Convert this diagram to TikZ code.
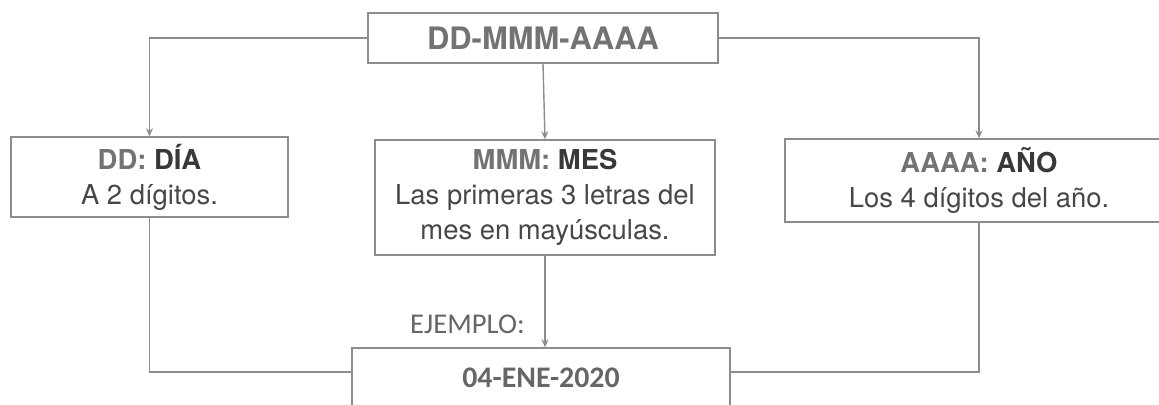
\documentclass[tikz,border=0pt]{standalone}
\usepackage{fontspec}
\setmainfont{TeX Gyre Heros}
\newfontfamily\calfont{Carlito}
\usetikzlibrary{arrows.meta,positioning}
\begin{document}
\begin{tikzpicture}[
  box/.style={draw=black!45, line width=0.8pt, align=center, inner sep=0pt,
    text=black!72, font=\fontsize{15.6}{19.9}\selectfont},
  link/.style={draw=black!45, line width=0.8pt},
  arr/.style={link, -{Stealth[length=1.6mm,width=1.4mm]}}]
\useasboundingbox (0,0) rectangle (23.18,-8.08);
\node[box, minimum width=7cm, minimum height=1cm, font=\fontsize{17.6}{20}\selectfont\bfseries, text=black!55] (fmt) at (10.86,-0.76) {DD-MMM-AAAA};
\node[box, minimum width=5.54cm, minimum height=1.6cm] (dd) at (2.99,-3.54)
  {\textcolor{black!55}{\bfseries DD:} \textcolor{black!78}{\bfseries DÍA}\\A 2 dígitos.};
\node[box, minimum width=6.8cm, minimum height=2.3cm] (mmm) at (10.90,-3.95)
  {\textcolor{black!55}{\bfseries MMM:} \textcolor{black!78}{\bfseries MES}\\Las primeras 3 letras del\\mes en mayúsculas.};
\node[box, minimum width=7.76cm, minimum height=1.66cm] (aaaa) at (19.58,-3.61)
  {\textcolor{black!55}{\bfseries AAAA:} \textcolor{black!78}{\bfseries AÑO}\\Los 4 dígitos del año.};
\node[box, minimum width=7.56cm, minimum height=1.2cm, font=\calfont\fontsize{17}{20}\selectfont\bfseries, text=black!60] (ex) at (10.82,-7.56) {04-ENE-2020};
\node[anchor=east, text=black!60, inner sep=0pt, font=\calfont\fontsize{16.3}{19}\selectfont] (lbl) at ([xshift=-0.32cm,yshift=0.46cm]ex.north) {EJEMPLO:};
\draw[arr] (fmt.west) -| (dd.north);
\draw[arr] (fmt.south) -- (mmm.north);
\draw[arr] (fmt.east) -| (aaaa.north);
\draw[arr] (mmm.south) -- (mmm.south |- ex.north);
\draw[link] (dd.south) |- ([yshift=0.12cm]ex.west);
\draw[link] (aaaa.south) |- ([yshift=0.12cm]ex.east);
\end{tikzpicture}
\end{document}
